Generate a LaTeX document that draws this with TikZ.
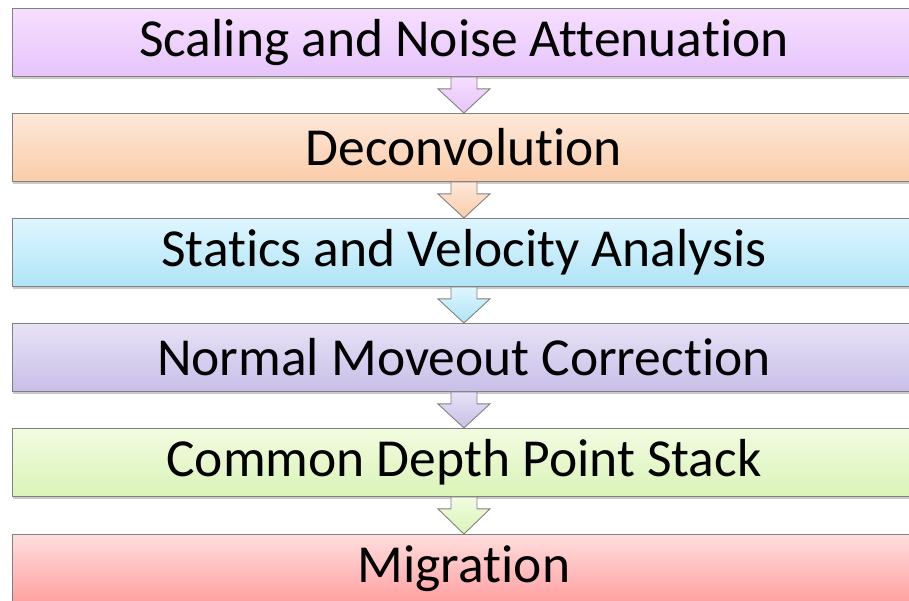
\documentclass[tikz,border=0pt]{standalone}
\usepackage{fontspec}
\setmainfont[Ligatures=NoCommon]{Carlito}
\usetikzlibrary{shadows,calc}
\definecolor{c1t}{RGB}{246,222,255}\definecolor{c1b}{RGB}{230,196,250}
\definecolor{c2t}{RGB}{253,232,218}\definecolor{c2b}{RGB}{251,204,168}
\definecolor{c3t}{RGB}{222,246,255}\definecolor{c3b}{RGB}{176,228,246}
\definecolor{c4t}{RGB}{232,226,246}\definecolor{c4b}{RGB}{200,190,232}
\definecolor{c5t}{RGB}{242,251,224}\definecolor{c5b}{RGB}{218,244,184}
\definecolor{c6t}{RGB}{255,222,222}\definecolor{c6b}{RGB}{255,160,160}
\definecolor{edge}{RGB}{128,128,128}
\tikzset{
  stagebox/.style={draw=edge, line width=0.9pt, minimum width=903pt, minimum height=68pt,
    inner sep=0pt, anchor=north west, font=\fontsize{53.5}{62}\selectfont,
    drop shadow={shadow xshift=1pt, shadow yshift=-3pt, opacity=0.35, fill=black!60}},
  flowarrow/.style={draw=edge, line width=0.9pt}
}
\begin{document}
\begin{tikzpicture}[x=1pt,y=-1pt]
\useasboundingbox (0,0) rectangle (909,601);
\node[stagebox, top color=c1t, bottom color=c1b] (b1) at (12,8) {Scaling and Noise Attenuation};
\node[stagebox, top color=c2t, bottom color=c2b] (b2) at (12,113) {Deconvolution};
\node[stagebox, top color=c3t, bottom color=c3b] (b3) at (12,218) {Statics and Velocity Analysis};
\node[stagebox, top color=c4t, bottom color=c4b] (b4) at (12,323) {Normal Moveout Correction};
\node[stagebox, top color=c5t, bottom color=c5b] (b5) at (12,428) {Common Depth Point Stack};
\node[stagebox, top color=c6t, bottom color=c6b] (b6) at (12,534) {Migration};
\foreach \a/\b/\ct/\cb in {b1/b2/c1t/c1b, b2/b3/c2t/c2b, b3/b4/c3t/c3b, b4/b5/c4t/c4b, b5/b6/c5t/c5b}{
  \path[flowarrow, top color=\ct, bottom color=\cb]
    ($(\a.south)+(-13,0)$) -- ($(\a.south)+(13,0)$) -- ($(\a.south)+(13,12)$)
    -- ($(\a.south)+(26,12)$) -- (\b.north) -- ($(\a.south)+(-26,12)$)
    -- ($(\a.south)+(-13,12)$) -- cycle;
}
\end{tikzpicture}
\end{document}
